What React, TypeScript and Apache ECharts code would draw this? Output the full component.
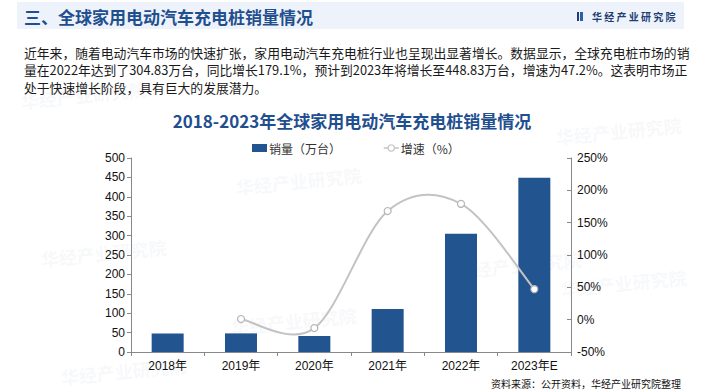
import React, { useEffect, useRef } from "react";
import * as echarts from "echarts";

const categories = ["2018年", "2019年", "2020年", "2021年", "2022年", "2023年E"];
const salesValues = [48, 48, 41, 111, 304.83, 448.83];
const growthValues: (number | null)[] = [null, 1, -13, 168, 179.1, 47.2];
const leftTicks = { min: 0, max: 500, interval: 50 };
const rightTicks = { min: -50, max: 250, interval: 50 };

const headerTitle = "三、全球家用电动汽车充电桩销量情况";
const brandName = "华经产业研究院";
const paragraphLines = [
  "近年来，随着电动汽车市场的快速扩张，家用电动汽车充电桩行业也呈现出显著增长。数据显示，全球充电桩市场的销",
  "量在2022年达到了304.83万台，同比增长179.1%，预计到2023年将增长至448.83万台，增速为47.2%。这表明市场正",
  "处于快速增长阶段，具有巨大的发展潜力。",
];
const chartTitle = "2018-2023年全球家用电动汽车充电桩销量情况";
const seriesNames = ["销量（万台）", "增速（%）"];
const sourceNote = "资料来源：公开资料，华经产业研究院整理";

const CJK = "'Noto Sans CJK SC', 'Noto Sans', sans-serif";
const LATIN = "'Liberation Sans', Arial, 'Noto Sans CJK SC', sans-serif";
const LINE_COLOR = "#c3c3c3";

export default function App() {
  const ref = useRef<HTMLDivElement>(null);
  useEffect(() => {
    document.body.style.margin = "0";
    const chart = echarts.init(ref.current!, undefined, { renderer: "svg" });
    const watermarks = [
      [235, 178], [455, 262], [40, 250], [555, 128], [560, 280], [60, 368], [20, 92], [230, 318],
    ].map(([x, y]) => ({
      type: "text",
      x,
      y,
      rotation: 0.1,
      silent: true,
      z: -10,
      style: {
        text: brandName,
        font: `bold 18px ${CJK}`,
        fill: "rgba(205,213,228,0.16)",
      },
    }));

    const renderCurve = (params: any, api: any) => {
      const pts: number[][] = [];
      growthValues.forEach((v, i) => {
        if (v !== null) pts.push(api.coord([i, v]));
      });
      let d = `M${pts[0][0]},${pts[0][1]}`;
      const t = 1 / 6;
      for (let i = 0; i < pts.length - 1; i++) {
        const p0 = pts[Math.max(i - 1, 0)];
        const p1 = pts[i];
        const p2 = pts[i + 1];
        const p3 = pts[Math.min(i + 2, pts.length - 1)];
        const c1x = p1[0] + (p2[0] - p0[0]) * t;
        const c1y = p1[1] + (p2[1] - p0[1]) * t;
        const c2x = p2[0] - (p3[0] - p1[0]) * t;
        const c2y = p2[1] - (p3[1] - p1[1]) * t;
        d += ` C${c1x},${c1y} ${c2x},${c2y} ${p2[0]},${p2[1]}`;
      }
      return {
        type: "path",
        shape: { pathData: d },
        style: { stroke: LINE_COLOR, lineWidth: 2, fill: "none" },
      };
    };

    chart.setOption({
      animation: false,
      backgroundColor: "#ffffff",
      graphic: [
        ...watermarks,
        { type: "rect", shape: { x: 17, y: 2, width: 667, height: 27 }, style: { fill: "#eef3fb" }, z: -5 },
        {
          type: "text",
          x: 24,
          y: 16,
          style: { text: headerTitle, font: `bold 17px ${CJK}`, fill: "#1f4f8f", textVerticalAlign: "middle" },
        },
        { type: "rect", shape: { x: 577, y: 12, width: 2, height: 9 }, style: { fill: "#1f3e72" } },
        { type: "rect", shape: { x: 580, y: 12, width: 3, height: 9 }, style: { fill: "#2d5fa5" } },
        {
          type: "text",
          x: 592,
          y: 16.5,
          style: {
            text: brandName.split("").join(" "),
            font: `bold 10px ${CJK}`,
            fill: "#1f3e72",
            textVerticalAlign: "middle",
          },
        },
        ...paragraphLines.map((t, i) => ({
          type: "text",
          x: 24,
          y: 52 + i * 17.8,
          style: { text: t, font: `12.8px ${CJK}`, fill: "#1a1a1a", textVerticalAlign: "middle" },
        })),
        {
          type: "text",
          x: 352,
          y: 120,
          style: {
            text: chartTitle,
            font: `bold 17px ${CJK}`,
            fill: "#1f4f8f",
            textAlign: "center",
            textVerticalAlign: "middle",
          },
        },
        {
          type: "text",
          x: 681,
          y: 383,
          style: {
            text: sourceNote,
            font: `10px ${CJK}`,
            fill: "#111",
            textAlign: "right",
            textVerticalAlign: "middle",
          },
        },
      ],
      legend: {
        left: 247,
        top: 137,
        itemWidth: 15,
        itemHeight: 8,
        itemGap: 42,
        textStyle: { fontFamily: CJK, fontSize: 12, color: "#333", padding: [0, 0, 0, -3] },
        data: [
          { name: seriesNames[0], icon: "rect" },
          {
            name: seriesNames[1],
            lineStyle: { color: LINE_COLOR, width: 1.5, opacity: 1 },
            itemStyle: { color: "#fff", borderColor: LINE_COLOR, borderWidth: 1.2 },
          },
        ],
      },
      grid: { left: 131, right: 133, top: 158, bottom: 40, containLabel: false },
      xAxis: {
        type: "category",
        data: categories,
        axisLine: { lineStyle: { color: "#888", width: 1 } },
        axisTick: { show: true, alignWithLabel: false, length: 4, lineStyle: { color: "#888" } },
        axisLabel: { fontFamily: LATIN, fontSize: 12, color: "#111", margin: 8 },
      },
      yAxis: [
        {
          type: "value",
          min: leftTicks.min,
          max: leftTicks.max,
          interval: leftTicks.interval,
          axisLine: { show: true, lineStyle: { color: "#888" } },
          axisTick: { show: true, length: 4, lineStyle: { color: "#888" } },
          splitLine: { show: false },
          axisLabel: { fontFamily: LATIN, fontSize: 12, color: "#111", margin: 6 },
        },
        {
          type: "value",
          min: rightTicks.min,
          max: rightTicks.max,
          interval: rightTicks.interval,
          position: "right",
          axisLine: { show: true, lineStyle: { color: "#888" } },
          axisTick: { show: true, inside: true, length: 4, lineStyle: { color: "#888" } },
          splitLine: { show: false },
          axisLabel: { fontFamily: LATIN, fontSize: 12, color: "#111", margin: 6, formatter: "{value}%" },
        },
      ],
      series: [
        {
          name: seriesNames[0],
          type: "bar",
          data: salesValues,
          barWidth: 32,
          itemStyle: { color: "#22548f" },
        },
        {
          type: "custom",
          xAxisIndex: 0,
          yAxisIndex: 1,
          renderItem: renderCurve,
          data: [[0, 0]],
          silent: true,
          z: 3,
        },
        {
          name: seriesNames[1],
          type: "line",
          yAxisIndex: 1,
          data: growthValues,
          symbol: "circle",
          symbolSize: 7,
          z: 4,
          lineStyle: { width: 0, opacity: 0 },
          itemStyle: { color: "#ffffff", borderColor: "#b5b5b5", borderWidth: 1.2 },
        },
      ],
    });
    return () => chart.dispose();
  }, []);
  return <div ref={ref} style={{ width: 704, height: 392 }} />;
}
